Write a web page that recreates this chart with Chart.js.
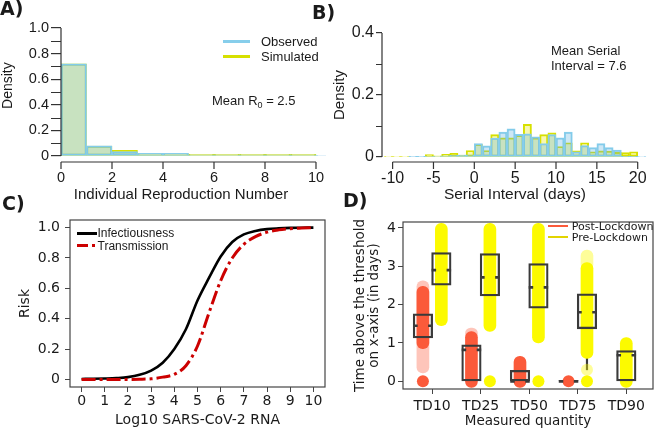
<!DOCTYPE html>
<html>
<head>
<meta charset="utf-8">
<script src="https://cdn.jsdelivr.net/npm/chart.js@4.4.1/dist/chart.umd.min.js"></script>
<style>
  body { margin: 0; background: #fff; }
  #wrap { position: relative; width: 659px; height: 431px; overflow: hidden; background: #fff; }
  #wrap canvas { position: absolute; left: 0; top: 0; }
  .t { position: absolute; white-space: nowrap; color: #1a1a1a; }
  .tag { font: bold 19px 'DejaVu Sans', sans-serif; line-height: 21px; }
  .r13 { font-family: 'Liberation Sans', Arial, sans-serif; font-size: 13px; line-height: 16px; }
  .r12 { font-family: 'Liberation Sans', Arial, sans-serif; font-size: 12px; line-height: 14px; }
  .d11 { font-family: 'DejaVu Sans', sans-serif; font-size: 11px; line-height: 13px; }
  .sw { position: absolute; }
</style>
</head>
<body>
<div id="wrap">
  <canvas id="chartA" width="659" height="431"></canvas>
  <canvas id="chartB" width="659" height="431"></canvas>
  <canvas id="chartC" width="659" height="431"></canvas>
  <canvas id="chartD" width="659" height="431"></canvas>

  <div class="t tag" style="left:0;top:-2px">A)</div>
  <div class="t tag" style="left:312px;top:2px">B)</div>
  <div class="t tag" style="left:2px;top:193px">C)</div>
  <div class="t tag" style="left:343px;top:190px">D)</div>

  <!-- legend and note, panel A -->
  <div class="sw" style="left:223px;top:40.3px;width:27px;height:2.8px;background:rgb(135,206,235)"></div>
  <div class="t r13" style="left:261px;top:33.5px">Observed</div>
  <div class="sw" style="left:223px;top:55.3px;width:27px;height:2.8px;background:rgb(214,224,0)"></div>
  <div class="t r13" style="left:261px;top:48.5px">Simulated</div>
  <div class="t r13" style="left:212px;top:93px">Mean R<sub style="font-size:9px;vertical-align:-3px">0</sub> = 2.5</div>

  <!-- note, panel B -->
  <div class="t r13" style="left:551px;top:42.6px;line-height:15px">Mean Serial<br>Interval = 7.6</div>

  <!-- legend, panel C -->
  <div class="sw" style="left:77px;top:232px;width:20px;height:2.6px;background:#000"></div>
  <div class="t r12" style="left:97.5px;top:226.4px">Infectiousness</div>
  <div class="sw" style="left:77px;top:243.5px;width:11px;height:3px;background:#cc0000"></div>
  <div class="sw" style="left:91.5px;top:243.5px;width:3px;height:3px;background:#cc0000"></div>
  <div class="t r12" style="left:97.5px;top:238.9px">Transmission</div>

  <!-- legend, panel D -->
  <div class="sw" style="left:548px;top:225.3px;width:20px;height:1.5px;background:#fb5a3a"></div>
  <div class="t d11" style="left:571.7px;top:220px">Post-Lockdown</div>
  <div class="sw" style="left:548px;top:236px;width:20px;height:1.5px;background:#e2d400"></div>
  <div class="t d11" style="left:571.7px;top:230.9px">Pre-Lockdown</div>
</div>

<script>
// ---- A) individual reproduction number, bins of width 1
const rBinStart = [0, 1, 2, 3, 4, 5, 6, 7, 8, 9, 10]
const rObserved = [0.72, 0.08, 0.034, 0.021, 0.021, 0.010, 0.010, 0.010, 0.010, 0.010, 0.006]
const rSimulated = [0.72, 0.078, 0.045, 0.018, 0.018, 0.013, 0.013, 0.013, 0.013, 0.013, 0]
const rTicks = [0, 2, 4, 6, 8, 10]
const densTicksA = [0, 0.2, 0.4, 0.6, 0.8, 1.0]
const densMinorA = [0.1, 0.3, 0.5, 0.7, 0.9]

// ---- B) serial interval (days), bins of width 1
const siBinStart = [-11, -10, -9, -8, -7, -6, -5, -4, -3, -2, -1, 0, 1, 2, 3, 4,
                    5, 6, 7, 8, 9, 10, 11, 12, 13, 14, 15, 16, 17, 18, 19, 20]
const siObserved = [0, 0, 0, 0.001, 0.001, 0.002, 0.002, 0.004, 0.005, 0.006, 0.007, 0.043, 0.036, 0.061, 0.080, 0.091,
                    0.073, 0.075, 0.065, 0.043, 0.072, 0.062, 0.080, 0.017, 0.037, 0.030, 0.043, 0.030, 0.022, 0.001, 0.001, 0.002]
const siSimulated = [0.002, 0.002, 0.002, 0, 0, 0.008, 0.004, 0.009, 0.012, 0.006, 0.021, 0.041, 0.021, 0.072, 0.062, 0.062,
                     0.070, 0.105, 0.062, 0.072, 0.078, 0.034, 0.046, 0.020, 0.046, 0.017, 0.020, 0.019, 0.015, 0.014, 0.017, 0]
const siTicks = [-10, -5, 0, 5, 10, 15, 20]
const densTicksB = [0, 0.2, 0.4]
const densMinorB = [0.1, 0.3]

// ---- C) risk against viral load
const logRNA = [0, 0.5, 1, 1.5, 2, 2.5, 3, 3.5, 4, 4.5, 5, 5.5, 6, 6.5, 7, 7.5, 8, 8.5, 9, 9.5, 10]
const infectiousness = [0.003, 0.004, 0.006, 0.009, 0.015, 0.03, 0.058, 0.11, 0.2, 0.33, 0.52, 0.67, 0.81, 0.905, 0.955, 0.978, 0.99, 0.995, 0.998, 0.999, 1.0]
const transmission = [0, 0, 0, 0, 0, 0.001, 0.004, 0.015, 0.033, 0.09, 0.22, 0.44, 0.65, 0.8, 0.89, 0.94, 0.97, 0.985, 0.993, 0.997, 1.0]
const rnaTicks = [0, 1, 2, 3, 4, 5, 6, 7, 8, 9, 10]
const riskTicks = [0, 0.2, 0.4, 0.6, 0.8, 1.0]

// ---- D) time above threshold (days)
const tdLabels = ['TD10', 'TD25', 'TD50', 'TD75', 'TD90']
const daysTicks = [0, 1, 2, 3, 4]
const postBox = [[1.13, 1.76], [0, 0.95], [0, 0.29], [0, 0.02], null]
const postMedian = [1.45, 0.82, 0, 0, null]
const postDense = [[0.85, 2.48], [-0.16, 1.3], [-0.16, 0.65], null, null]
const postSparse = [[0.22, 2.62], [1.1, 1.39], null, null, null]
const postDot = [0, null, null, 0, null]
const preBox = [[2.51, 3.36], [2.23, 3.33], [1.91, 3.07], [1.37, 2.28], [0, 0.8]]
const preMedian = [2.9, 2.71, 2.45, 1.8, 0.68]
const preDense = [[1.45, 4.12], [1.3, 4.12], [1.0, 4.12], [0.6, 3.1], [-0.16, 1.14]]
const preSparse = [null, null, null, [2.9, 3.42], null]
const preDot = [null, 0, 0, 0, null]
const prePaleDot = [null, null, null, 0.3, null]
const preWhisker = [null, null, null, [0.3, 1.37], null]

const W = 659, H = 431
const axisGrey = '#333333'
const boxEdge = '#3a3a3a'
const cyan = 'rgb(135, 206, 235)'
const cyanFill = 'rgba(88, 177, 222, 0.3)'
const lime = 'rgb(214, 224, 0)'
const limeFill = 'rgba(230, 230, 0, 0.3)'
const red = '#fb5a3a', redPale = 'rgba(251, 90, 58, 0.35)'
const yellow = '#fcfa00', yellowPale = 'rgba(252, 250, 0, 0.4)'
const sans = "'Liberation Sans', Arial, sans-serif"
const dejavu = "'DejaVu Sans', sans-serif"

const common = {
    responsive: false,
    animation: false,
    devicePixelRatio: 1,
    events: [],
    plugins: { legend: { display: false }, tooltip: { enabled: false } }
}

// chart area fixed in page pixels, axis boxes forced to a set size
function placement(area, padL, hX) {
    return {
        layout: { padding: { left: padL, top: area.t, right: W - area.r, bottom: H - area.b - hX } },
        yFit: s => { s.width = area.l - padL },
        xFit: s => { s.height = hX }
    }
}

const setTicks = list => s => { s.ticks = list.map(v => ({ value: v })) }
const fmt1 = v => v === 0 ? '0' : v.toFixed(1)

// R style axes: lines only from first to last tick, x axis a little below the plot,
// unlabeled minor ticks on the y axis
function rAxes(xTicks, gap, len, yTicks, yMinor, yLen) {
    return {
        id: 'rAxes',
        afterDraw(chart) {
            const { ctx, chartArea, scales: { x, y } } = chart
            const y0 = chartArea.bottom + gap
            const x0 = chartArea.left
            ctx.save()
            ctx.strokeStyle = axisGrey
            ctx.lineWidth = 1.2
            ctx.beginPath()
            ctx.moveTo(x.getPixelForValue(xTicks[0]), y0)
            ctx.lineTo(x.getPixelForValue(xTicks[xTicks.length - 1]), y0)
            xTicks.forEach(v => {
                const px = x.getPixelForValue(v)
                ctx.moveTo(px, y0)
                ctx.lineTo(px, y0 + len)
            })
            ctx.moveTo(x0, y.getPixelForValue(yTicks[0]))
            ctx.lineTo(x0, y.getPixelForValue(yTicks[yTicks.length - 1]))
            yMinor.forEach(v => {
                const py = Math.round(y.getPixelForValue(v)) + 0.5
                ctx.moveTo(x0 - yLen, py)
                ctx.lineTo(x0, py)
            })
            ctx.stroke()
            ctx.restore()
        }
    }
}

const boxFrame = {
    id: 'boxFrame',
    afterDatasetsDraw(chart) {
        const { ctx, chartArea: a } = chart
        ctx.save()
        ctx.strokeStyle = '#454545'
        ctx.lineWidth = 1.2
        ctx.strokeRect(a.left, a.top, a.right - a.left, a.bottom - a.top)
        ctx.restore()
    }
}

function histSet(label, starts, values, edge, fill, order, clip) {
    return {
        label, order, clip,
        data: starts.map((s, i) => ({ x: s + 0.5, y: values[i] })),
        backgroundColor: fill,
        borderColor: edge,
        borderWidth: 1.3,
        borderSkipped: false,
        barPercentage: 1,
        categoryPercentage: 1,
        grouped: false
    }
}

function rYAxis(place, ticks, tickLen, fontSize) {
    return {
        afterFit: place.yFit,
        afterBuildTicks: setTicks(ticks),
        grid: { drawOnChartArea: false, drawTicks: true, tickLength: tickLen, color: axisGrey, lineWidth: 1.2 },
        border: { display: false },
        ticks: { autoSkip: false, padding: 2, font: { family: sans, size: fontSize }, color: '#1a1a1a', callback: v => fmt1(v) }
    }
}

// ---------------- A
// plot region runs a bit past the axis (top to 1.1, right edge at 9.4); last bins spill over
const placeA = placement({ l: 61, t: 15.2, r: 301, b: 156 }, 0, 48)
const spillA = { left: 0, top: 0, bottom: 0, right: 25 }
new Chart(document.getElementById('chartA'), {
    type: 'bar',
    data: {
        datasets: [
            histSet('Observed', rBinStart, rObserved, cyan, cyanFill, 0, spillA),
            histSet('Simulated', rBinStart, rSimulated, lime, limeFill, 1, spillA)
        ]
    },
    options: {
        ...common,
        layout: placeA.layout,
        scales: {
            x: {
                type: 'linear', min: 0, max: 9.412, offset: false,
                afterFit: placeA.xFit,
                afterBuildTicks: setTicks(rTicks),
                grid: { display: false, drawTicks: false, offset: false },
                border: { display: false },
                ticks: { autoSkip: false, maxRotation: 0, padding: 13.3, font: { family: sans, size: 14.5 }, color: '#1a1a1a' },
                title: { display: true, text: 'Individual Reproduction Number', color: '#1a1a1a', font: { family: sans, size: 15 }, padding: 0 }
            },
            y: {
                min: 0, max: 1.1,
                ...rYAxis(placeA, densTicksA, 10, 14.5),
                title: { display: true, text: 'Density', color: '#1a1a1a', font: { family: sans, size: 14 }, padding: 0 }
            }
        }
    },
    plugins: [rAxes(rTicks, 6, 7, densTicksA, densMinorA, 10)]
})

// ---------------- B
const placeB = placement({ l: 382, t: 33, r: 659, b: 157 }, 331, 47)
new Chart(document.getElementById('chartB'), {
    type: 'bar',
    data: {
        datasets: [
            histSet('Observed', siBinStart, siObserved, cyan, cyanFill, 0, 0),
            histSet('Simulated', siBinStart, siSimulated, lime, limeFill, 1, 0)
        ]
    },
    options: {
        ...common,
        layout: placeB.layout,
        scales: {
            x: {
                type: 'linear', min: -11.3, max: 21.25, offset: false,
                afterFit: placeB.xFit,
                afterBuildTicks: setTicks(siTicks),
                grid: { display: false, drawTicks: false, offset: false },
                border: { display: false },
                ticks: { autoSkip: false, maxRotation: 0, padding: 12.4, font: { family: sans, size: 16 }, color: '#1a1a1a' },
                title: { display: true, text: 'Serial Interval (days)', color: '#1a1a1a', font: { family: sans, size: 15.5 }, padding: 0 }
            },
            y: {
                min: 0, max: 0.4,
                ...rYAxis(placeB, densTicksB, 6, 16),
                title: { display: true, text: 'Density', color: '#1a1a1a', font: { family: sans, size: 15 }, padding: 0 }
            }
        }
    },
    plugins: [rAxes(siTicks, 5, 7, densTicksB, densMinorB, 6)]
})

// ---------------- C
const placeC = placement({ l: 70, t: 220, r: 325, b: 387 }, 16.6, 42)
new Chart(document.getElementById('chartC'), {
    type: 'line',
    data: {
        datasets: [
            {
                label: 'Infectiousness', order: 1,
                data: logRNA.map((v, i) => ({ x: v, y: infectiousness[i] })),
                borderColor: '#000000', borderWidth: 2.6, pointRadius: 0,
                cubicInterpolationMode: 'monotone'
            },
            {
                label: 'Transmission', order: 0,
                data: logRNA.map((v, i) => ({ x: v, y: transmission[i] })),
                borderColor: '#cc0000', borderWidth: 3, borderDash: [14, 4, 3, 4], pointRadius: 0,
                cubicInterpolationMode: 'monotone'
            }
        ]
    },
    options: {
        ...common,
        layout: placeC.layout,
        scales: {
            x: {
                type: 'linear', min: -0.5, max: 10.5,
                afterFit: placeC.xFit,
                afterBuildTicks: setTicks(rnaTicks),
                grid: { drawOnChartArea: false, drawTicks: true, tickLength: 5, color: '#454545' },
                border: { display: false },
                ticks: { autoSkip: false, maxRotation: 0, padding: 1.3, font: { family: dejavu, size: 14 }, color: '#1a1a1a' },
                title: { display: true, text: 'Log10 SARS-CoV-2 RNA', color: '#1a1a1a', font: { family: dejavu, size: 14 }, padding: 0 }
            },
            y: {
                min: -0.05, max: 1.05,
                afterFit: placeC.yFit,
                afterBuildTicks: setTicks(riskTicks),
                grid: { drawOnChartArea: false, drawTicks: true, tickLength: 5, color: '#454545' },
                border: { display: false },
                ticks: { autoSkip: false, padding: 5, font: { family: dejavu, size: 14 }, color: '#1a1a1a', callback: v => fmt1(v) },
                title: { display: true, text: 'Risk', color: '#1a1a1a', font: { family: dejavu, size: 14 }, padding: 0 }
            }
        }
    },
    plugins: [boxFrame]
})

// ---------------- D
const dodge = 0.19
const capW = 12, boxW = 19.5
// post-lockdown sits left of the tick, pre-lockdown right of it (centred when alone)
const posOf = (i, group) => group === 'post' ? i - dodge : (postBox[i] ? i + dodge : i)

function floatSet(label, ranges, group, color, width, order, extra) {
    const data = []
    ranges.forEach((r, i) => { if (r) data.push({ x: posOf(i, group), y: r }) })
    return Object.assign({
        label, data, order,
        backgroundColor: color, borderWidth: 0, borderSkipped: false,
        barThickness: width, grouped: false
    }, extra)
}

function dotSet(label, values, group, color, order) {
    const data = []
    values.forEach((v, i) => { if (v !== null) data.push({ x: posOf(i, group), y: v }) })
    return { type: 'scatter', label, data, order, pointRadius: 6, backgroundColor: color, borderWidth: 0 }
}

const medianMarks = {
    id: 'medianMarks',
    afterDatasetsDraw(chart) {
        const { ctx, scales: { x, y } } = chart
        ctx.save()
        ctx.strokeStyle = boxEdge
        ctx.lineWidth = 2.6
        ctx.beginPath()
        ;[['post', postMedian], ['pre', preMedian]].forEach(([group, meds]) => {
            meds.forEach((m, i) => {
                if (m === null) return
                const xc = x.getPixelForValue(posOf(i, group))
                const py = y.getPixelForValue(m)
                const half = boxW / 2
                ctx.moveTo(xc - half, py)
                ctx.lineTo(xc - half + 4.5, py)
                ctx.moveTo(xc + half - 4.5, py)
                ctx.lineTo(xc + half, py)
            })
        })
        ctx.stroke()
        ctx.restore()
    }
}

const placeD = placement({ l: 403, t: 222, r: 655, b: 389 }, 352.6, 41)
new Chart(document.getElementById('chartD'), {
    type: 'bar',
    data: {
        datasets: [
            floatSet('whisker', preWhisker, 'pre', boxEdge, 1.5, 6),
            floatSet('Post-Lockdown sparse', postSparse, 'post', redPale, capW, 5, { borderRadius: 6 }),
            floatSet('Pre-Lockdown sparse', preSparse, 'pre', yellowPale, capW, 5, { borderRadius: 6 }),
            floatSet('Post-Lockdown', postDense, 'post', red, capW, 4, { borderRadius: 6 }),
            floatSet('Pre-Lockdown', preDense, 'pre', yellow, capW, 4, { borderRadius: 6 }),
            floatSet('Post-Lockdown box', postBox, 'post', 'rgba(0,0,0,0)', boxW, 3, { borderColor: boxEdge, borderWidth: 1.6 }),
            floatSet('Pre-Lockdown box', preBox, 'pre', 'rgba(0,0,0,0)', boxW, 3, { borderColor: boxEdge, borderWidth: 1.6 }),
            dotSet('Post-Lockdown zero', postDot, 'post', red, 2),
            dotSet('Pre-Lockdown zero', preDot, 'pre', yellow, 2),
            dotSet('Pre-Lockdown pale', prePaleDot, 'pre', yellowPale, 1)
        ]
    },
    options: {
        ...common,
        layout: placeD.layout,
        scales: {
            x: {
                type: 'linear', min: -0.6, max: 4.55, offset: false,
                afterFit: placeD.xFit,
                afterBuildTicks: setTicks(tdLabels.map((_, i) => i)),
                grid: { drawOnChartArea: false, drawTicks: true, tickLength: 5, color: '#454545', offset: false },
                border: { display: false },
                ticks: { autoSkip: false, maxRotation: 0, padding: 4.3, font: { family: dejavu, size: 14 }, color: '#1a1a1a', callback: v => tdLabels[v] },
                title: { display: true, text: 'Measured quantity', color: '#1a1a1a', font: { family: dejavu, size: 13.5 }, padding: 0 }
            },
            y: {
                min: -0.2, max: 4.155,
                afterFit: placeD.yFit,
                afterBuildTicks: setTicks(daysTicks),
                grid: { drawOnChartArea: false, drawTicks: true, tickLength: 5, color: '#454545' },
                border: { display: false },
                ticks: { autoSkip: false, padding: 2, font: { family: dejavu, size: 14 }, color: '#1a1a1a' },
                title: {
                    display: true, text: ['Time above the threshold', 'on x-axis (in days)'], color: '#1a1a1a',
                    font: { family: dejavu, size: 13.5, lineHeight: 1.1 }, padding: 0
                }
            }
        }
    },
    plugins: [medianMarks, boxFrame]
})
</script>
</body>
</html>
